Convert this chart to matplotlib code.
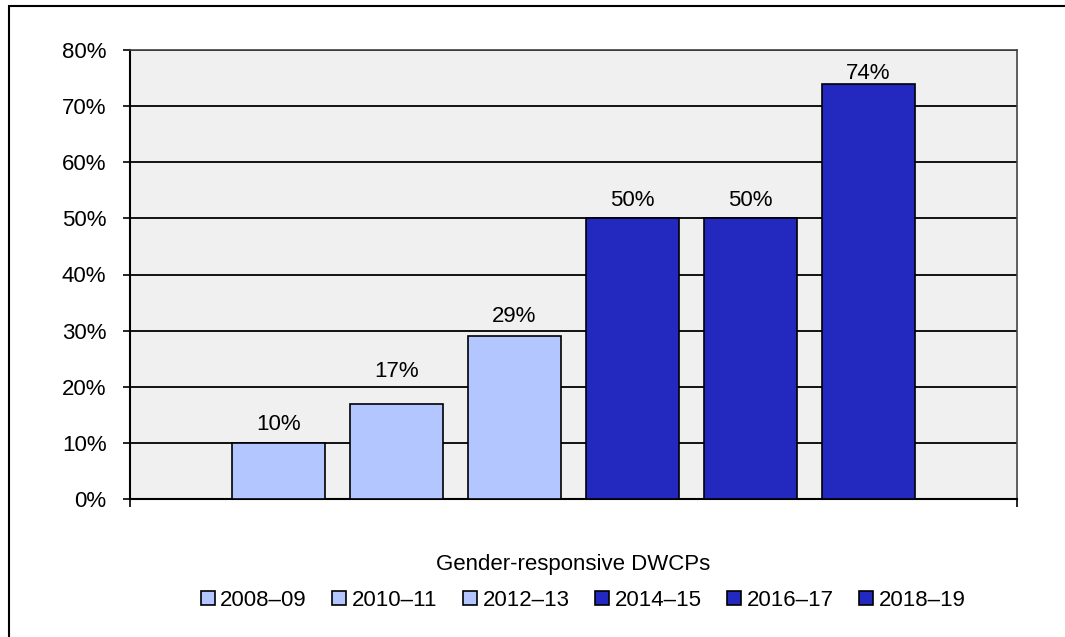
import numpy as np
import matplotlib.pyplot as plt
from matplotlib.patches import Rectangle

plt.rcParams["font.family"] = ["Liberation Sans", "DejaVu Sans"]

# Data
periods = ["2008–09", "2010–11", "2012–13", "2014–15", "2016–17", "2018–19"]
values = [10, 17, 29, 50, 50, 74]
category = "Gender-responsive DWCPs"
light = "#B3C6FF"
dark = "#2328BE"
colors = [light, light, light, dark, dark, dark]
# label gap above each bar (points), as placed in the original
label_gap = [9.6, 19.0, 10.0, 9.2, 9.2, 3.6]

fig = plt.figure(figsize=(10.65, 6.37), dpi=100)
ax = fig.add_axes([130 / 1065, 1 - 499 / 637, 887 / 1065, 449 / 637])
ax.set_facecolor("#F0F0F0")

x = np.arange(1, len(values) + 1)
for xi, v, c, lab, g in zip(x, values, colors, periods, label_gap):
    ax.bar(xi, v, width=0.79, color=c, edgecolor="black", linewidth=1.2,
           label=lab, zorder=3)
    ax.annotate(f"{v}%", (xi, v), xytext=(0, g), textcoords="offset points",
                ha="center", va="baseline", fontsize=16, zorder=4)

half = 887 / 118 / 2
ax.set_xlim(3.5 - half, 3.5 + half)
ax.set_ylim(0, 80)
ax.set_yticks(np.arange(0, 81, 10))
ax.set_yticklabels([f"{t}%" for t in range(0, 81, 10)], fontsize=16)
ax.yaxis.grid(True, color="black", linewidth=1.3, zorder=0)
ax.set_axisbelow(True)

ax.set_xticks([3.5 - half, 3.5 + half])
ax.set_xticklabels(["", ""])
ax.tick_params(axis="y", direction="out", length=5, width=1.2, pad=12)
ax.tick_params(axis="x", direction="out", length=6, width=1.2)
ax.text(0.5, -0.145, category, transform=ax.transAxes,
        ha="center", va="center", fontsize=16)

for side in ["left", "bottom"]:
    ax.spines[side].set_linewidth(1.5)
for side in ["top", "right"]:
    ax.spines[side].set_linewidth(1.2)
    ax.spines[side].set_color("#444444")

ax.legend(loc="center", bbox_to_anchor=(0.511, -0.226), ncol=6, frameon=False,
          fontsize=16, handlelength=0.63, handleheight=0.54, handletextpad=0.25,
          columnspacing=1.15, borderpad=0)

fig.patches.append(Rectangle((9 / 1065, -0.1), 1.2, 1.1 - 6 / 637,
                             transform=fig.transFigure, fill=False,
                             edgecolor="black", linewidth=1.5))

fig.savefig("out.png", dpi=100)
